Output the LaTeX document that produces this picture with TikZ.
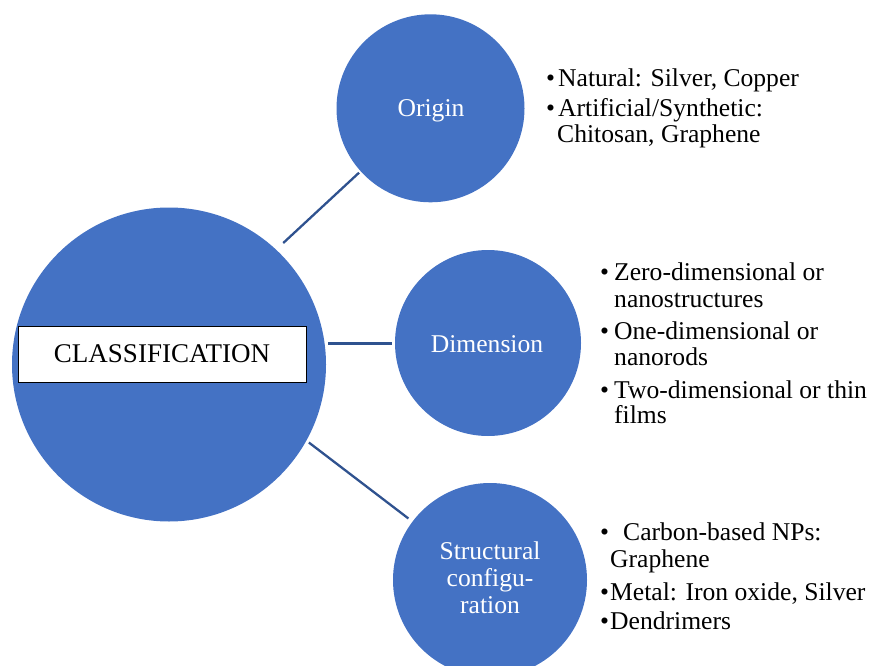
\documentclass[tikz,border=0pt]{standalone}
\usepackage{fontspec}
\setmainfont{Liberation Serif}
\definecolor{circ}{HTML}{4472C4}
\definecolor{conn}{HTML}{2F528F}
\begin{document}
\begin{tikzpicture}[x=1pt,y=-1pt,
  bubble/.style={circle, fill=circ, inner sep=0pt, draw=none},
  ctext/.style={anchor=base, text=white, inner sep=0pt, font=\fontsize{25.6}{27}\selectfont},
  btext/.style={anchor=base west, inner sep=0pt, font=\fontsize{25.6}{27}\selectfont},
  bdot/.style={anchor=base west, inner sep=0pt, font=\fontsize{25.6}{27}\selectfont},
  link/.style={draw=conn, line width=2.3pt}]
\useasboundingbox (0,0) rectangle (873,666);
% bubbles
\node[bubble, minimum size=314pt] (big) at (169,364.5) {};
\node[bubble, minimum size=188pt] (orig) at (430.5,108.3) {};
\node[bubble, minimum size=186pt] (dim) at (488,343) {};
\node[bubble, minimum size=194pt] (str) at (490,580) {};
% connectors
\draw[link, shorten <=9.6pt, shorten >=2pt] (big.47.3) -- (orig.222);
\draw[link, line width=3pt, shorten <=2pt, shorten >=3pt] (big.east |- dim.west) -- (dim.west);
\draw[link, shorten <=3pt, shorten >=5pt] (big.-29.8) -- (str.143.5);
% classification box
\node[draw=black, fill=white, line width=0.8pt, minimum width=288pt, minimum height=56pt, inner sep=0pt,
  font=\fontsize{27}{27}\selectfont] (cls) at (162,354) {CLASSIFICATION};
% bubble labels
\node[ctext] (torig) at (431,116.5) {Origin};
\node[ctext] (tdim) at (487,352) {Dimension};
\node[ctext] (ts1) at (490,559) {Structural};
\node[ctext] (ts2) at (490,586) {configu-};
\node[ctext] (ts3) at (490,613) {ration};
% origin bullets
\node[bdot] (ob1) at (546,87) {•};
\node[btext] (ot1) at (558,87) {Natural: Silver, Copper};
\node[bdot] (ob2) at (546,117) {•};
\node[btext] (ot2) at (558,117) {Artificial/Synthetic:};
\node[btext] (ot3) at (557,143) {Chitosan, Graphene};
% dimension bullets
\node[bdot] (db1) at (600,280) {•};
\node[btext] (dt1) at (614,280) {Zero-dimensional or};
\node[btext] (dt2) at (614,307) {nanostructures};
\node[bdot] (db2) at (600,339) {•};
\node[btext] (dt3) at (614,339) {One-dimensional or};
\node[btext] (dt4) at (614,365) {nanorods};
\node[bdot] (db3) at (600,398) {•};
\node[btext] (dt5) at (614,398) {Two-dimensional or thin};
\node[btext] (dt6) at (614,423) {films};
% structural bullets
\node[bdot] (sb1) at (600,540) {•};
\node[btext] (st1) at (623,540) {Carbon-based NPs:};
\node[btext] (st2) at (610,567) {Graphene};
\node[bdot] (sb2) at (600,600) {•};
\node[btext] (st3) at (610,600) {Metal: Iron oxide, Silver};
\node[bdot] (sb3) at (600,629) {•};
\node[btext] (st4) at (610,629) {Dendrimers};
\end{tikzpicture}
\end{document}
